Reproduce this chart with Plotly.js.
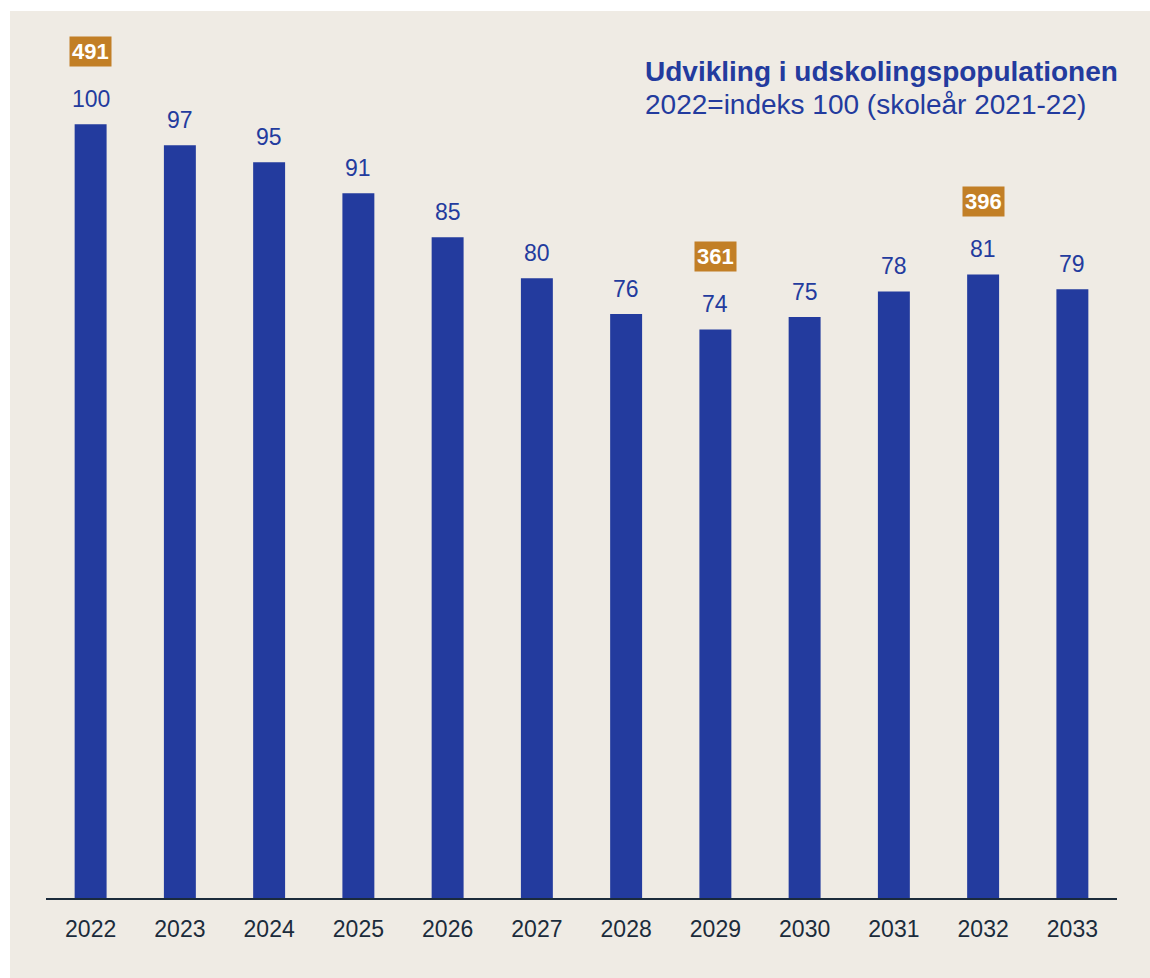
<!DOCTYPE html>
<html>
<head>
<meta charset="utf-8">
<script src="https://cdn.plot.ly/plotly-3.0.1.min.js"></script>
<style>
html,body{margin:0;padding:0;background:#ffffff;width:1150px;height:978px;overflow:hidden;}
#chart{position:absolute;left:10px;top:11px;width:1140px;height:967px;}
</style>
</head>
<body>
<div id="chart"></div>
<script>
const years = ["2022","2023","2024","2025","2026","2027","2028","2029","2030","2031","2032","2033"];
const indexValues = [100, 97.3, 95.1, 91.1, 85.4, 80.1, 75.5, 73.5, 75.1, 78.4, 80.6, 78.7];
const indexLabels = ["100","97","95","91","85","80","76","74","75","78","81","79"];
const highlightYears = ["2022","2029","2032"];
const highlightCounts = [491, 361, 396];
const titleText = "Udvikling i udskolingspopulationen";
const subtitleText = "2022=indeks 100 (skoleår 2021-22)";

const BLUE = "#233B9E";
const ORANGE = "#C27F26";
const NAVY = "#1B2B3B";
const FONT = "Liberation Sans, Arial, sans-serif";

const annotations = [];
years.forEach((y, i) => {
  annotations.push({
    x: i, y: indexValues[i], xref: "x", yref: "y",
    text: indexLabels[i], showarrow: false,
    yanchor: "middle", yshift: 25,
    font: {family: FONT, size: 23, color: BLUE}
  });
});
highlightYears.forEach((y, k) => {
  const i = years.indexOf(y);
  annotations.push({
    x: i, y: indexValues[i], xref: "x", yref: "y",
    text: "<b>" + highlightCounts[k] + "</b>", showarrow: false,
    yanchor: "middle", yshift: 73,
    bgcolor: ORANGE, borderpad: 2,
    font: {family: FONT, size: 22, color: "#ffffff"}
  });
});
annotations.push({
  xref: "paper", yref: "paper", x: (643 - 46) / 1071, y: (898 - 72) / 851,
  xanchor: "left", yanchor: "middle", align: "left", showarrow: false,
  text: "<b>" + titleText + "</b>",
  font: {family: FONT, size: 28, color: BLUE}
});
annotations.push({
  xref: "paper", yref: "paper", x: (643 - 46) / 1071, y: (898 - 104) / 851,
  xanchor: "left", yanchor: "middle", align: "left", showarrow: false,
  text: subtitleText,
  font: {family: FONT, size: 28, color: BLUE}
});

const trace = {
  type: "bar", x: years, y: indexValues,
  marker: {color: BLUE}, width: 0.358,
  hoverinfo: "x+y"
};

const layout = {
  width: 1140, height: 967,
  margin: {l: 36, r: 33, t: 36, b: 80},
  paper_bgcolor: "#EFEBE4", plot_bgcolor: "#EFEBE4",
  showlegend: false,
  xaxis: {
    type: "category", range: [-0.5, 11.5],
    showline: true, linecolor: NAVY, linewidth: 2,
    ticks: "", showgrid: false, zeroline: false,
    ticklabelstandoff: 9,
    tickfont: {family: FONT, size: 23, color: NAVY}
  },
  yaxis: {
    range: [0, 110], visible: false, showgrid: false, zeroline: false, fixedrange: true
  },
  annotations: annotations
};

Plotly.newPlot("chart", [trace], layout, {displayModeBar: false, staticPlot: true});
</script>
</body>
</html>
